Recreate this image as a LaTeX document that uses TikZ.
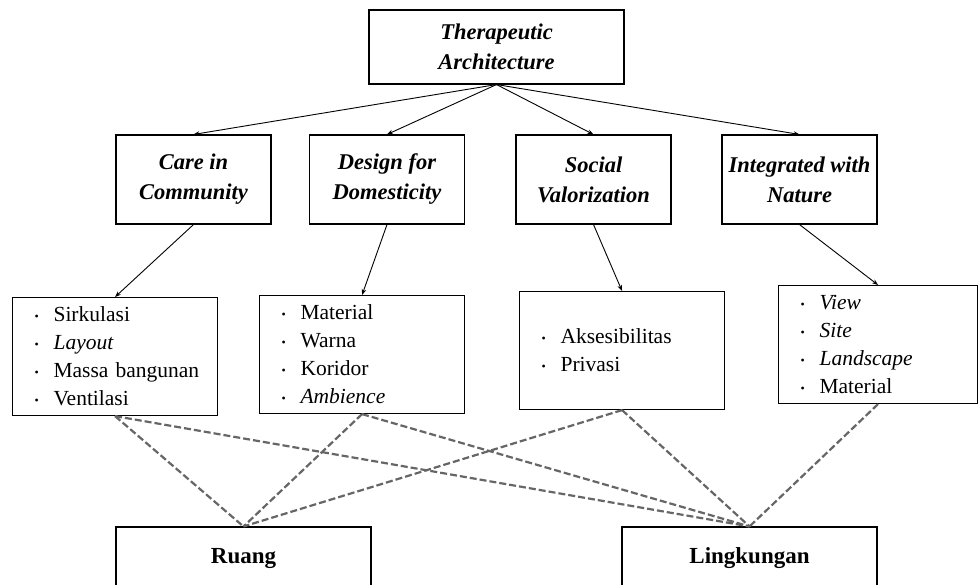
\documentclass[tikz,border=0pt]{standalone}
\usepackage{fontspec}
\setmainfont{Liberation Serif}
\usetikzlibrary{arrows.meta}
\definecolor{mgray}{rgb}{0.4, 0.4, 0.4}
\tikzset{topic/.style = {draw, line width = 1.1pt, inner sep = 0, align = center, font = \fontsize{22.5}{30}\selectfont\bfseries\itshape}}
\tikzset{itembox/.style = {draw, line width = 1.1pt, anchor = north west, text width = 183pt, inner xsep = 11pt, inner ysep = 0, minimum height = 118pt, align = left, font = \fontsize{21.5}{28}\selectfont}}
\tikzset{arr/.style = {line width = 0.9pt, -{Stealth[length = 6pt, width = 4.5pt]}}}
\tikzset{link/.style = {mgray, line width = 2.2pt, dash pattern = on 7pt off 3pt}}
\newcommand{\bitem}[1]{\hspace*{11pt}\makebox[19pt][l]{\raisebox{1.5pt}{\fontsize{12}{12}\selectfont\textbullet}}#1}

\begin{document}
\begin{tikzpicture}[x = 1pt, y = -1pt]
      \clip (0, 0) rectangle (979, 584);
      \node [topic, minimum width = 255pt, minimum height = 74pt] (ta) at (496.5, 47) {Therapeutic\\Architecture};

      \node [topic, minimum width = 155pt, minimum height = 89pt] (care) at (193.5, 179.5) {Care in\\Community};
      \node [topic, minimum width = 155pt, minimum height = 89pt] (design) at (387, 179.5) {Design for\\Domesticity};
      \node [topic, minimum width = 155pt, minimum height = 89pt] (social) at (593.5, 179.5) {Social\\Valorization};
      \node [topic, minimum width = 155pt, minimum height = 89pt] (nature) at (799.5, 179.5) {Integrated with\\Nature};

      \node [itembox] (l1) at (12, 297) {\bitem{Sirkulasi}\\\bitem{\textit{Layout}}\\\bitem{Massa bangunan}\\\bitem{Ventilasi}};
      \node [itembox] (l2) at (259, 295) {\bitem{Material}\\\bitem{Warna}\\\bitem{Koridor}\\\bitem{\textit{Ambience}}};
      \node [itembox] (l3) at (519, 291) {\bitem{Aksesibilitas}\\\bitem{Privasi}};
      \node [itembox, text width = 177pt] (l4) at (778, 285) {\bitem{\textit{View}}\\\bitem{\textit{Site}}\\\bitem{\textit{Landscape}}\\\bitem{Material}};

      \node [topic, font = \fontsize{23}{30}\selectfont\bfseries, minimum width = 255pt, minimum height = 62pt] (ruang) at (243.5, 558) {Ruang};
      \node [topic, font = \fontsize{23}{30}\selectfont\bfseries, minimum width = 255pt, minimum height = 62pt] (ling) at (749.5, 558) {Lingkungan};

      \foreach \a/\b in {ta/care, ta/design, ta/social, ta/nature, care/l1, design/l2, social/l3, nature/l4} {
        \draw [arr] (\a.south) -- (\b.north);
      }
      \foreach \a/\b in {l1/ruang, l1/ling, l2/ruang, l2/ling, l3/ruang, l3/ling, l4/ling} {
        \draw [link] (\a.south) -- (\b.north);
      }
    \end{tikzpicture}
\end{document}
